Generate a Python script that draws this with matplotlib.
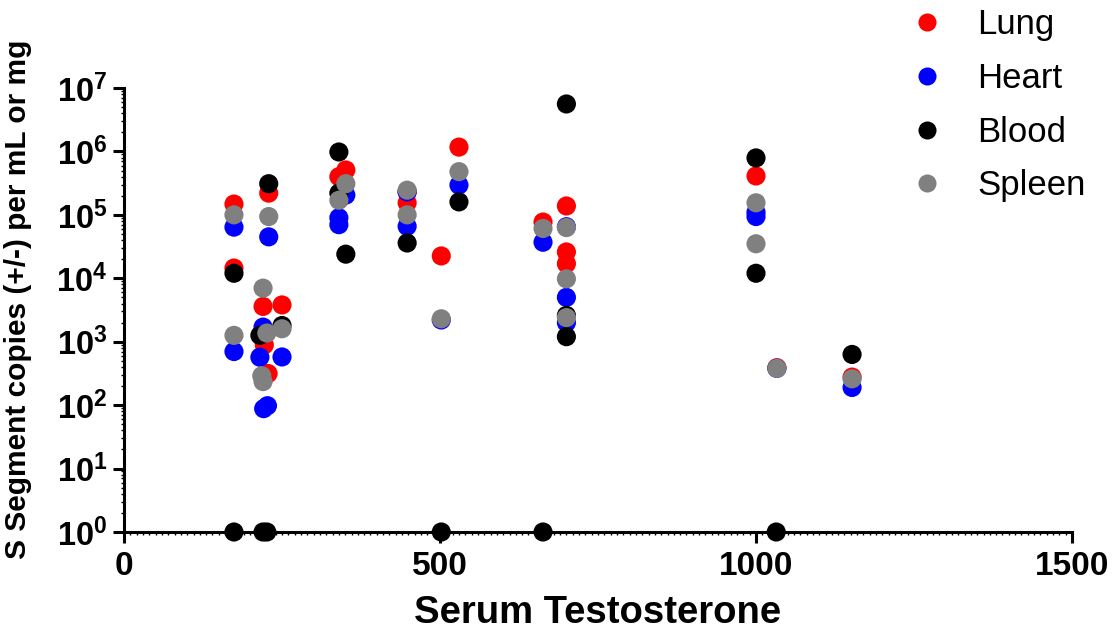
import matplotlib
matplotlib.use("Agg")
import matplotlib.pyplot as plt
from matplotlib.lines import Line2D
from matplotlib.ticker import MultipleLocator, LogLocator, FixedLocator, NullFormatter

plt.rcParams['font.family'] = ['Liberation Sans', 'DejaVu Sans']
plt.rcParams['mathtext.fontset'] = 'custom'
plt.rcParams['mathtext.rm'] = 'Liberation Sans:bold'
plt.rcParams['mathtext.bf'] = 'Liberation Sans:bold'
plt.rcParams['mathtext.it'] = 'Liberation Sans:bold'

# ---- data (zero values drawn on the axis at 10^0) ----
lung_x = [174, 174, 229, 220, 222, 228, 250, 340, 351, 448, 448, 502, 530, 663, 700, 700, 700, 1000, 1033, 1152]
lung_y = [1.48e5, 1.45e4, 2.2e5, 3.6e3, 890, 315, 3.8e3, 4.0e5, 5.1e5, 2.3e5, 1.55e5, 2.25e4, 1.17e6, 7.7e4,
          1.38e5, 2.6e4, 1.7e4, 4.1e5, 390, 277]

heart_x = [174, 174, 229, 220, 215, 221, 227, 250, 340, 340, 351, 448, 448, 502, 530, 663, 700, 700, 700,
           1000, 1000, 1033, 1152]
heart_y = [6.4e4, 700, 4.5e4, 1.7e3, 570, 88, 98, 575, 9.0e4, 7.0e4, 2.05e5, 2.3e5, 6.6e4, 2200, 2.95e5, 3.7e4,
           6.5e4, 5.0e3, 2.0e3, 1.1e5, 9.4e4, 380, 190]

blood_x = [174, 229, 215, 250, 340, 340, 351, 448, 530, 700, 700, 700, 1000, 1000, 1152,
           174, 220, 226, 502, 663, 1032]
blood_y = [1.2e4, 3.1e5, 1.26e3, 1.8e3, 9.8e5, 2.2e5, 2.4e4, 3.6e4, 1.6e5, 5.6e6, 2.6e3, 1.2e3, 7.9e5, 1.2e4, 630,
           1, 1, 1, 1, 1, 1]

spleen_x = [174, 174, 229, 220, 226, 250, 218, 220, 340, 351, 448, 448, 502, 530, 663, 700, 700, 700,
            1000, 1000, 1033, 1152]
spleen_y = [1.0e5, 1260, 9.4e4, 7.0e3, 1.37e3, 1.6e3, 290, 235, 1.7e5, 3.1e5, 2.45e5, 1.0e5, 2300, 4.8e5, 6.1e4,
            6.3e4, 9.8e3, 2.4e3, 1.55e5, 3.5e4, 380, 260]

series = [("Lung", lung_x, lung_y, "#ff0000"),
          ("Heart", heart_x, heart_y, "#0000ff"),
          ("Blood", blood_x, blood_y, "#000000"),
          ("Spleen", spleen_x, spleen_y, "#808080")]

x_ticks = [0, 500, 1000, 1500]
y_exps = [0, 1, 2, 3, 4, 5, 6, 7]

fig = plt.figure(figsize=(11.15, 6.38), dpi=100, facecolor='white')
ax = fig.add_axes([124/1115, 1-532/638, 948/1115, 444/638])

for name, xs, ys, c in series:
    ax.scatter(xs, ys, s=190, color=c, edgecolors='none', zorder=3, clip_on=False)

ax.set_yscale('log')
ax.set_xlim(0, 1500)
ax.set_ylim(1, 1e7)

for s in ['top', 'right']:
    ax.spines[s].set_visible(False)
for s in ['left', 'bottom']:
    ax.spines[s].set_linewidth(2.2)

ax.xaxis.set_major_locator(FixedLocator(x_ticks))
ax.set_xticklabels([str(t) for t in x_ticks], fontsize=24, fontweight='bold')
ax.xaxis.set_minor_locator(MultipleLocator(10))

ax.yaxis.set_major_locator(FixedLocator([10.0**e for e in y_exps]))
ax.set_yticklabels([r'$\mathbf{10^{%d}}$' % e for e in y_exps], fontsize=23.5)
ax.yaxis.set_minor_locator(LogLocator(base=10, subs=range(2, 10), numticks=20))
ax.yaxis.set_minor_formatter(NullFormatter())

ax.tick_params(axis='both', which='major', length=8, width=2.2, direction='out', color='black')
ax.tick_params(axis='x', which='major', pad=6)
ax.tick_params(axis='y', which='major', pad=4)
ax.tick_params(axis='both', which='minor', length=2.5, width=1.0, direction='out', color='black')

ax.set_xlabel("Serum Testosterone", fontsize=27.5, fontweight='bold')
ax.xaxis.set_label_coords(0.5, -0.142)
ax.set_ylabel("S Segment copies (+/-) per mL or mg", fontsize=21.5, fontweight='bold')
ax.yaxis.set_label_coords(-0.097, 0.525)

handles = [Line2D([], [], marker='o', ls='', color=c, markeredgecolor='none', markersize=13)
           for _, _, _, c in series]
labels = [n for n, _, _, _ in series]
fig.legend(handles, labels, loc='upper left', bbox_to_anchor=(913/1115, 1 - 8/638),
           bbox_transform=fig.transFigure, frameon=False, fontsize=25,
           handlelength=0.8, handletextpad=1.05, labelspacing=0.6,
           borderpad=0, borderaxespad=0)

fig.savefig("out.png", dpi=100, facecolor='white')
